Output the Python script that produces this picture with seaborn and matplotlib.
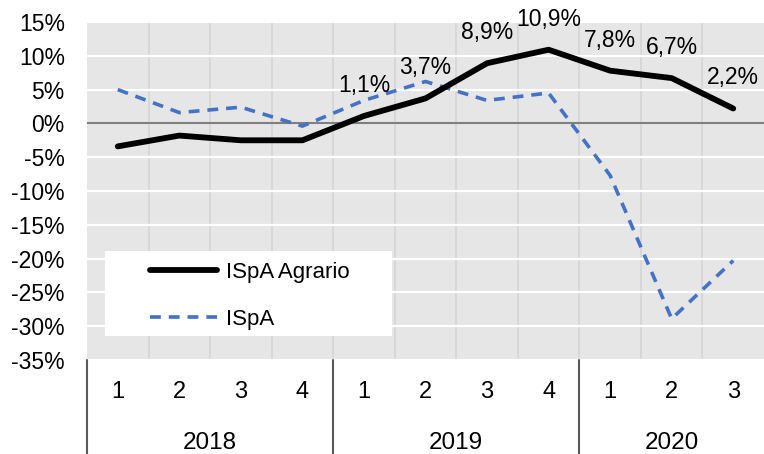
import matplotlib
matplotlib.use("Agg")
import matplotlib.pyplot as plt
from matplotlib.patches import Rectangle
import seaborn as sns
import pandas as pd
import numpy as np

quarters = ["1", "2", "3", "4", "1", "2", "3", "4", "1", "2", "3"]
years = ["2018", "2019", "2020"]
year_sizes = [4, 4, 3]
agrario = [-3.4, -1.8, -2.5, -2.5, 1.1, 3.7, 8.9, 10.9, 7.8, 6.7, 2.2]
ispa = [5.0, 1.6, 2.4, -0.4, 3.4, 6.2, 3.4, 4.5, -7.7, -28.9, -20.3]
label_text = ["", "", "", "", "1,1%", "3,7%", "8,9%", "10,9%", "7,8%", "6,7%", "2,2%"]

sns.set_theme(style="white")
plt.rcParams["font.family"] = ["Liberation Sans", "DejaVu Sans"]
plt.rcParams["text.color"] = "black"
plt.rcParams["xtick.color"] = "black"
plt.rcParams["ytick.color"] = "black"

n = len(quarters)
idx = np.arange(n)
df = pd.DataFrame({
    "x": np.concatenate([idx, idx]),
    "v": agrario + ispa,
    "serie": ["ISpA Agrario"] * n + ["ISpA"] * n,
})

W, H = 764, 454
fig = plt.figure(figsize=(W / 100, H / 100), dpi=100)
ax = fig.add_axes([87 / W, 1 - 360 / H, 1 - 87 / W, (360 - 22) / H])
ax.set_facecolor("#e6e6e6")

for y in range(-35, 16, 5):
    if y != 0:
        ax.axhline(y, color="white", lw=1.6, zorder=0.5)
for b in np.arange(0.5, n - 0.5, 1):
    ax.axvline(b, color="#d4d4d4", lw=1.2, zorder=0.4)
ax.axhline(0, color="#7f7f7f", lw=1.5, zorder=1)

sns.lineplot(data=df[df.serie == "ISpA Agrario"], x="x", y="v", ax=ax, color="black",
             lw=4.2, label="ISpA Agrario", zorder=3, solid_capstyle="round", solid_joinstyle="round")
sns.lineplot(data=df[df.serie == "ISpA"], x="x", y="v", ax=ax, color="#4472C4",
             lw=2.6, label="ISpA", zorder=2, dashes=False)
ax.lines[-1].set_linestyle((0, (3, 2.2)))

for i, (v, t) in enumerate(zip(agrario, label_text)):
    if t:
        ax.annotate(t, (i, v), xytext=(0, 22), textcoords="offset points",
                    ha="center", va="center", fontsize=16.5, color="black")

ax.set_xlim(-0.5, n - 0.5)
ax.set_ylim(-35, 15)
ax.set_yticks(range(-35, 16, 5))
ax.set_yticklabels([f"{v}%" for v in range(-35, 16, 5)], fontsize=16.5)
ax.tick_params(axis="y", length=0, pad=16)
ax.set_xticks(idx)
ax.set_xticklabels(quarters, fontsize=17)
ax.tick_params(axis="x", length=0, pad=15)
ax.set_xlabel("")
ax.set_ylabel("")
for s in ax.spines.values():
    s.set_visible(False)

# year group labels and separators
start = 0
bounds = [-0.5]
for yname, size in zip(years, year_sizes):
    center = start + (size - 1) / 2
    ax.text(center, -(443 - 360) / 338, yname, transform=ax.get_xaxis_transform(),
            ha="center", va="center", fontsize=17.5, clip_on=False)
    start += size
    bounds.append(start - 0.5)
for b in bounds[:-1]:
    ax.plot([b, b], [0, -(454 - 360) / 338 - 0.01], transform=ax.get_xaxis_transform(),
            color="#595959", lw=1.5, clip_on=False)

# legend box
ax.add_patch(Rectangle(((105 - 87) / 677, (360 - 336) / 338), (392 - 105) / 677, (336 - 251) / 338,
                       transform=ax.transAxes, facecolor="white", edgecolor="none", zorder=4))
leg = ax.legend(loc="upper left", bbox_to_anchor=((150 - 87) / 677, (360 - 262) / 338),
                frameon=False, fontsize=16, handlelength=3.0,
                borderpad=0.0, labelspacing=1.15, handletextpad=0.4, borderaxespad=0)
leg.set_zorder(5)

fig.savefig("out.png", dpi=100)
